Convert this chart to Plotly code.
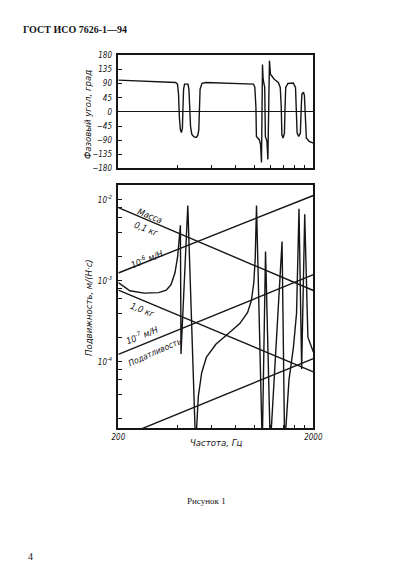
import plotly.graph_objects as go

# ---------------- data ----------------
# phase angle of mobility, degrees
phase_freq = [200, 393, 402, 407, 411, 416, 421, 426, 429, 432, 437, 455, 460, 464, 469, 476, 487, 502,
              511, 517, 521, 525, 537, 562, 987, 1002, 1015, 1021, 1056, 1072, 1084, 1097, 1105, 1117,
              1126, 1135, 1156, 1169, 1191, 1205, 1260, 1323, 1353, 1369, 1379, 1400, 1421, 1432, 1443,
              1481, 1578, 1620, 1639, 1651, 1683, 1715, 1734, 1747, 1780, 1800, 1820, 1841, 1904, 2000]
phase_deg = [101, 93.6, 88.4, 57, -15.6, -57.2, -65.6, -52, 15.6, 72.8, 88.4, 88.4, 72.8, 15.6, -46.8,
             -70.8, -79, -81, -74, -57, 15.6, 72.8, 90.5, 93.6, 88.4, 78, 15.6, -78, -88.4, -104, -161,
             151, 104, 93.6, 78, -78, -93.6, -151, 163, 119.6, 104, 93.6, 78, 15.6, -73, -83, -67.6,
             15.6, 78, 90.5, 91.6, 78, 15.6, -67.6, -78, -67.6, 15.6, 57, 62.4, 52, -15.6, -83, -93.6, -99]

# measured mobility, m/(N*s)
mob_freq = [200, 229, 271, 322, 352, 372, 390, 403, 416, 419, 454, 498, 514, 535, 566, 634, 726, 841,
            920, 962, 990, 1007, 1022, 1094, 1137, 1203, 1382, 1425, 1500, 1580, 1640, 1688, 1742,
            1806, 1875, 2000]
mob_val = [9.5e-4, 7.55e-4, 7.05e-4, 7.15e-4, 7.66e-4, 8.93e-4, 1.25e-3, 2.02e-3, 4.86e-3, 1.25e-4,
           8.5e-3, 9.0e-6, 3.74e-5, 7.35e-5, 1.15e-4, 1.66e-4, 2.19e-4, 2.99e-4, 4.07e-4, 5.71e-4,
           9.46e-4, 1.91e-3, 8.5e-3, 9.0e-6, 2.30e-3, 9.0e-6, 3.05e-3, 9.0e-6, 6.0e-5, 1.5e-4, 4.0e-4,
           7.76e-3, 8.2e-5, 6.62e-3, 2.02e-4, 1.32e-4]

# mass and compliance reference lines, values at 200 Hz and 2000 Hz
line_freq = [200, 2000]
mass_01kg = [8.0e-3, 7.6e-4]
mass_1kg = [7.7e-4, 7.55e-5]
compl_1e6 = [1.25e-3, 1.13e-2]
compl_1e7 = [1.24e-4, 1.19e-3]
compl_1e8 = [1.14e-5, 1.10e-4]

phase_ticks = [-180, -135, -90, -45, 0, 45, 90, 135, 180]
freq_major = [200, 2000]
freq_major_text = ["200", "2000"]
freq_minor = [400, 600, 800, 1000, 1200, 1400, 1600, 1800]
mob_major = [1e-4, 1e-3, 1e-2]
mob_major_text = ["10<sup>-4</sup>", "10<sup>-3</sup>", "10<sup>-2</sup>"]
mob_minor = [2e-5, 4e-5, 6e-5, 8e-5, 2e-4, 4e-4, 6e-4, 8e-4, 2e-3, 4e-3, 6e-3, 8e-3]

# ---------------- figure ----------------
W, H = 397, 571
INK = "#151515"
COND = "DejaVu Sans Condensed, DejaVu Sans"
ITAL = dict(family=COND, size=9, color=INK, style="italic")
TICKF = dict(family=COND, size=8, color=INK, style="italic")


def px(x, y):
    return x / W, 1 - y / H


fig = go.Figure()
fig.add_trace(go.Scatter(x=phase_freq, y=phase_deg, mode="lines", line=dict(color=INK, width=1.4),
                         xaxis="x", yaxis="y", showlegend=False))
for vals in (mass_01kg, mass_1kg, compl_1e6, compl_1e7, compl_1e8):
    fig.add_trace(go.Scatter(x=line_freq, y=vals, mode="lines", line=dict(color=INK, width=1.4),
                             xaxis="x2", yaxis="y2", showlegend=False))
fig.add_trace(go.Scatter(x=mob_freq, y=mob_val, mode="lines", line=dict(color=INK, width=1.4),
                         xaxis="x2", yaxis="y2", showlegend=False))

L, R = 108 / W, 311.7 / W
axis_common = dict(showline=True, linecolor=INK, linewidth=1.5, mirror=True, ticks="inside",
                   ticklen=4, tickcolor=INK, tickwidth=1.2, showgrid=False, tickfont=TICKF)
minor_common = dict(ticks="inside", ticklen=4, tickcolor=INK, tickwidth=1.2, showgrid=False)

fig.update_layout(
    width=W, height=H, margin=dict(l=0, r=0, t=0, b=0),
    paper_bgcolor="white", plot_bgcolor="white",
    xaxis=dict(type="log", range=[2.30103, 3.30103], domain=[L, R], anchor="y",
               tickvals=freq_major, showticklabels=False,
               minor=dict(tickvals=freq_minor, **minor_common), **axis_common),
    yaxis=dict(range=[-180, 180], domain=[1 - 159 / H, 1 - 44 / H], anchor="x",
               tickvals=phase_ticks, zeroline=True, zerolinecolor=INK, zerolinewidth=1.3,
               ticklabelstandoff=3, **axis_common),
    xaxis2=dict(type="log", range=[2.30103, 3.30103], domain=[L, R], anchor="y2",
                tickvals=freq_major, ticktext=freq_major_text,
                minor=dict(tickvals=freq_minor, **minor_common), **axis_common),
    yaxis2=dict(type="log", range=[-4.82, -1.82], domain=[1 - 423 / H, 1 - 176 / H], anchor="x2",
                tickvals=mob_major, ticktext=mob_major_text, ticklabelstandoff=3,
                minor=dict(tickvals=mob_minor, **minor_common), **axis_common),
)

ann = []


def add_text(text, x, y, size=9, angle=0, font=None, **kw):
    xp, yp = px(x, y)
    f = dict(ITAL) if font is None else dict(font)
    f["size"] = size
    ann.append(dict(text=text, x=xp, y=yp, xref="paper", yref="paper", showarrow=False,
                    textangle=angle, font=f, xanchor="center", yanchor="middle", **kw))


SERIF_B = dict(family="Liberation Serif", size=10, color=INK, weight="bold")
SERIF = dict(family="Liberation Serif", size=9, color=INK)
add_text("ГОСТ ИСО 7626-1—94", 63, 18, size=10, font=SERIF_B)
add_text("Рисунок 1", 200, 497, size=9, font=SERIF)
add_text("4", 16, 553, size=10, font=SERIF)

add_text("Фазовый угол, град", 76, 104, size=9.5, angle=-90)
add_text("Подвижность, м/(Н·с)", 77, 300, size=9.5, angle=-90)
add_text("Частота, Гц", 210, 437, size=9.5)

add_text("Масса", 141, 207, angle=22)
add_text("0,1 кг", 137, 220, angle=22)
add_text("10<sup>-6</sup> м/Н", 137, 251, angle=-22)
add_text("1,0 кг", 133, 303, angle=22)
add_text("10<sup>-7</sup> м/Н", 132, 328, angle=-22)
add_text("Податливость", 146, 345, size=8.5, angle=-24)

fig.update_layout(annotations=ann)
fig.write_html("out.html")
